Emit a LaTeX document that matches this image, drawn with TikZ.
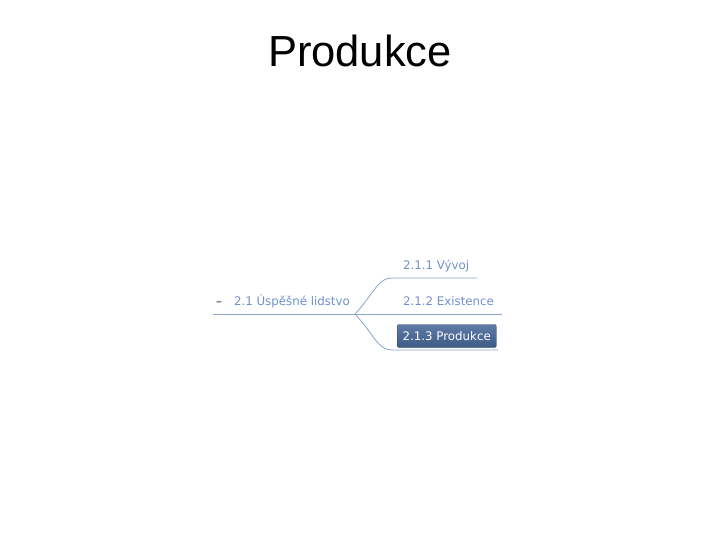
\documentclass[tikz,border=0pt]{standalone}
\usepackage{fontspec}
\setmainfont{Liberation Sans}
\newfontfamily\mapfont{DejaVu Sans}
\usetikzlibrary{positioning,calc}
\definecolor{maptext}{HTML}{6F8FCC}
\definecolor{mapline}{HTML}{8AA4D2}
\definecolor{mapdash}{HTML}{7A8290}
\definecolor{seltop}{HTML}{5E7BA8}
\definecolor{selbot}{HTML}{3E5A86}
\tikzset{
  topic/.style={font=\mapfont\fontsize{11.8}{13}\selectfont, text=maptext, inner sep=0pt, anchor=base west},
  selected/.style={topic, text=white, top color=seltop, bottom color=selbot, draw=selbot!80!black,
    rounded corners=1.5pt, inner xsep=5.5pt, inner ysep=0pt, minimum height=23pt, anchor=west},
  branch/.style={draw=mapline, line width=0.8pt}
}
\begin{document}
\begin{tikzpicture}[x=1pt,y=-1pt]
\useasboundingbox (0,0) rectangle (720,540);
\node[font=\fontsize{43.5}{50}\selectfont, anchor=base] (title) at (360,67) {Produkce};
% map
\node[topic] (root) at (216,305) {\textcolor{mapdash}{\textbf{\textendash}}\hspace{12pt}2.1 Úspěšné lidstvo};
\coordinate (rootstart) at (213,314);
\coordinate (fork) at (355,314);
\node[topic] (vyvoj) at (403,269.5) {2.1.1 Vývoj};
\node[topic] (exist) at (403,305) {2.1.2 Existence};
\node[selected] (prod) at (397,336) {2.1.3 Produkce};
\coordinate (vyvojend) at (477,278);
\coordinate (existend) at (502,314);
\coordinate (prodend) at (498,350);
\draw[branch] (rootstart) -- (fork);
\draw[branch] (fork) .. controls (375,292) and (378,278) .. (392,278) -- (vyvojend);
\draw[branch] (fork) -- (existend);
\draw[branch] (fork) .. controls (375,336) and (378,350) .. (392,350) -- (prodend);
\end{tikzpicture}
\end{document}
